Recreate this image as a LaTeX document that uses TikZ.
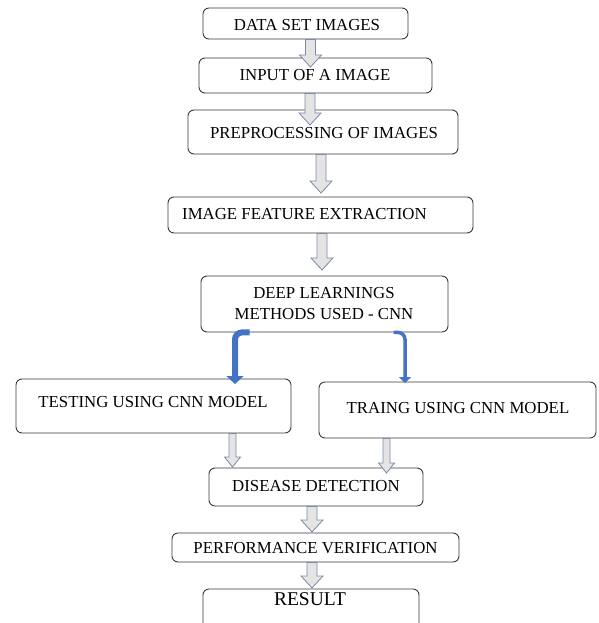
\documentclass[tikz,border=0pt]{standalone}
\usepackage{fontspec}
\setmainfont{Liberation Serif}
\usetikzlibrary{arrows.meta,calc}

\definecolor{boxline}{HTML}{3A3A3A}
\definecolor{arrowfill}{HTML}{E4E4E4}
\definecolor{arrowedge}{HTML}{7A8AA8}
\definecolor{linkblue}{HTML}{4472C4}

\begin{document}
\begin{tikzpicture}[x=1pt,y=-1pt,
  box/.style={draw=boxline, line width=0.9pt, rounded corners=6pt, fill=white,
    inner sep=0pt, minimum width=#1},
  label/.style={inner sep=0pt, anchor=base, font=\fontsize{16.8}{21}\selectfont},
  shaft half/.store in=\ShaftHalf, shaft half=5pt,
  head half/.store in=\HeadHalf, head half=11pt,
  head len/.store in=\HeadLen, head len=12pt,
  % hollow block arrow running straight down from the start to the tip
  garrow/.style={draw=arrowedge, fill=arrowfill, line width=0.8pt, line join=miter,
    to path={let \p1=(\tikztostart), \p2=(\tikztotarget) in
      (\x2-\ShaftHalf,\y1) -- (\x2-\ShaftHalf,\y2+\HeadLen) -- (\x2-\HeadHalf,\y2+\HeadLen)
      -- (\x2,\y2) -- (\x2+\HeadHalf,\y2+\HeadLen) -- (\x2+\ShaftHalf,\y2+\HeadLen)
      -- (\x2+\ShaftHalf,\y1) -- cycle}},
  blink/.style={draw=linkblue, rounded corners=7pt}
]
\useasboundingbox (0,0) rectangle (598,623);
\clip (0,0) rectangle (598,623);

% boxes
\node[box=205pt, minimum height=31pt] (b1) at (305.5,23.5) {};
\node[box=233pt, minimum height=35pt] (b2) at (315.5,75.5) {};
\node[box=270pt, minimum height=44pt] (b3) at (323,132) {};
\node[box=305pt, minimum height=36pt] (b4) at (320.5,215) {};
\node[box=247pt, minimum height=56pt] (b5) at (324.5,304) {};
\node[box=275pt, minimum height=54pt] (b6) at (153.5,406) {};
\node[box=277pt, minimum height=56pt] (b7) at (457.5,410) {};
\node[box=214pt, minimum height=38pt] (b8) at (316,487) {};
\node[box=287pt, minimum height=29pt] (b9) at (315.5,547.5) {};
\node[box=216pt, minimum height=61pt] (b10) at (311,619.5) {};

% texts
\node[label] (t1) at (307,31) {DATA SET IMAGES};
\node[label] (t2) at (315,81) {INPUT OF A IMAGE};
\node[label] (t3) at (324,139) {PREPROCESSING OF IMAGES};
\node[label, anchor=base west] (t4) at (182,219.5) {IMAGE FEATURE EXTRACTION};
\node[label] (t5a) at (324,298) {DEEP LEARNINGS};
\node[label] (t5b) at (324,319) {METHODS USED - CNN};
\node[label] (t6) at (153,407) {TESTING USING CNN MODEL};
\node[label] (t7) at (458,413) {TRAING USING CNN MODEL};
\node[label] (t8) at (316,491.5) {DISEASE DETECTION};
\node[label] (t9) at (315.5,553.5) {PERFORMANCE VERIFICATION};
\node[label, font=\fontsize{19.5}{23}\selectfont] (t10) at (310,605.5) {RESULT};

% arrow tips
\coordinate (p1) at (310.5,67);
\coordinate (p2) at (310,125);
\coordinate (p3) at (321,193);
\coordinate (p4) at (322,270);
\coordinate (p5) at (232.5,467);
\coordinate (p6) at (386.5,473);
\coordinate (p7) at (312,532);
\coordinate (p8) at (312,588);
\coordinate (pL) at (235,384);
\coordinate (pR) at (405,383);

% block arrows
\draw[garrow] (b1.south -| p1) to (p1);
\draw[garrow] (b2.south -| p2) to (p2);
\draw[garrow] (b3.south -| p3) to (p3);
\draw[garrow] (b4.south -| p4) to (p4);
\draw[garrow, shaft half=3.5pt, head half=8pt, head len=10pt] (b6.south -| p5) to (p5);
\draw[garrow, shaft half=3.5pt, head half=8pt, head len=10pt] (b7.south -| p6) to (p6);
\draw[garrow] (b8.south -| p7) to (p7);
\draw[garrow] (b9.south -| p8) to (p8);

% bent links to the two model boxes
\draw[blink, line width=6pt, -{Triangle[width=17pt,length=8pt]}]
  ([xshift=49pt]b5.south west) -| (pL);
\draw[blink, line width=3.5pt, -{Triangle[width=12pt,length=6pt]}]
  ([xshift=193pt]b5.south west) -| (pR);
\end{tikzpicture}
\end{document}
